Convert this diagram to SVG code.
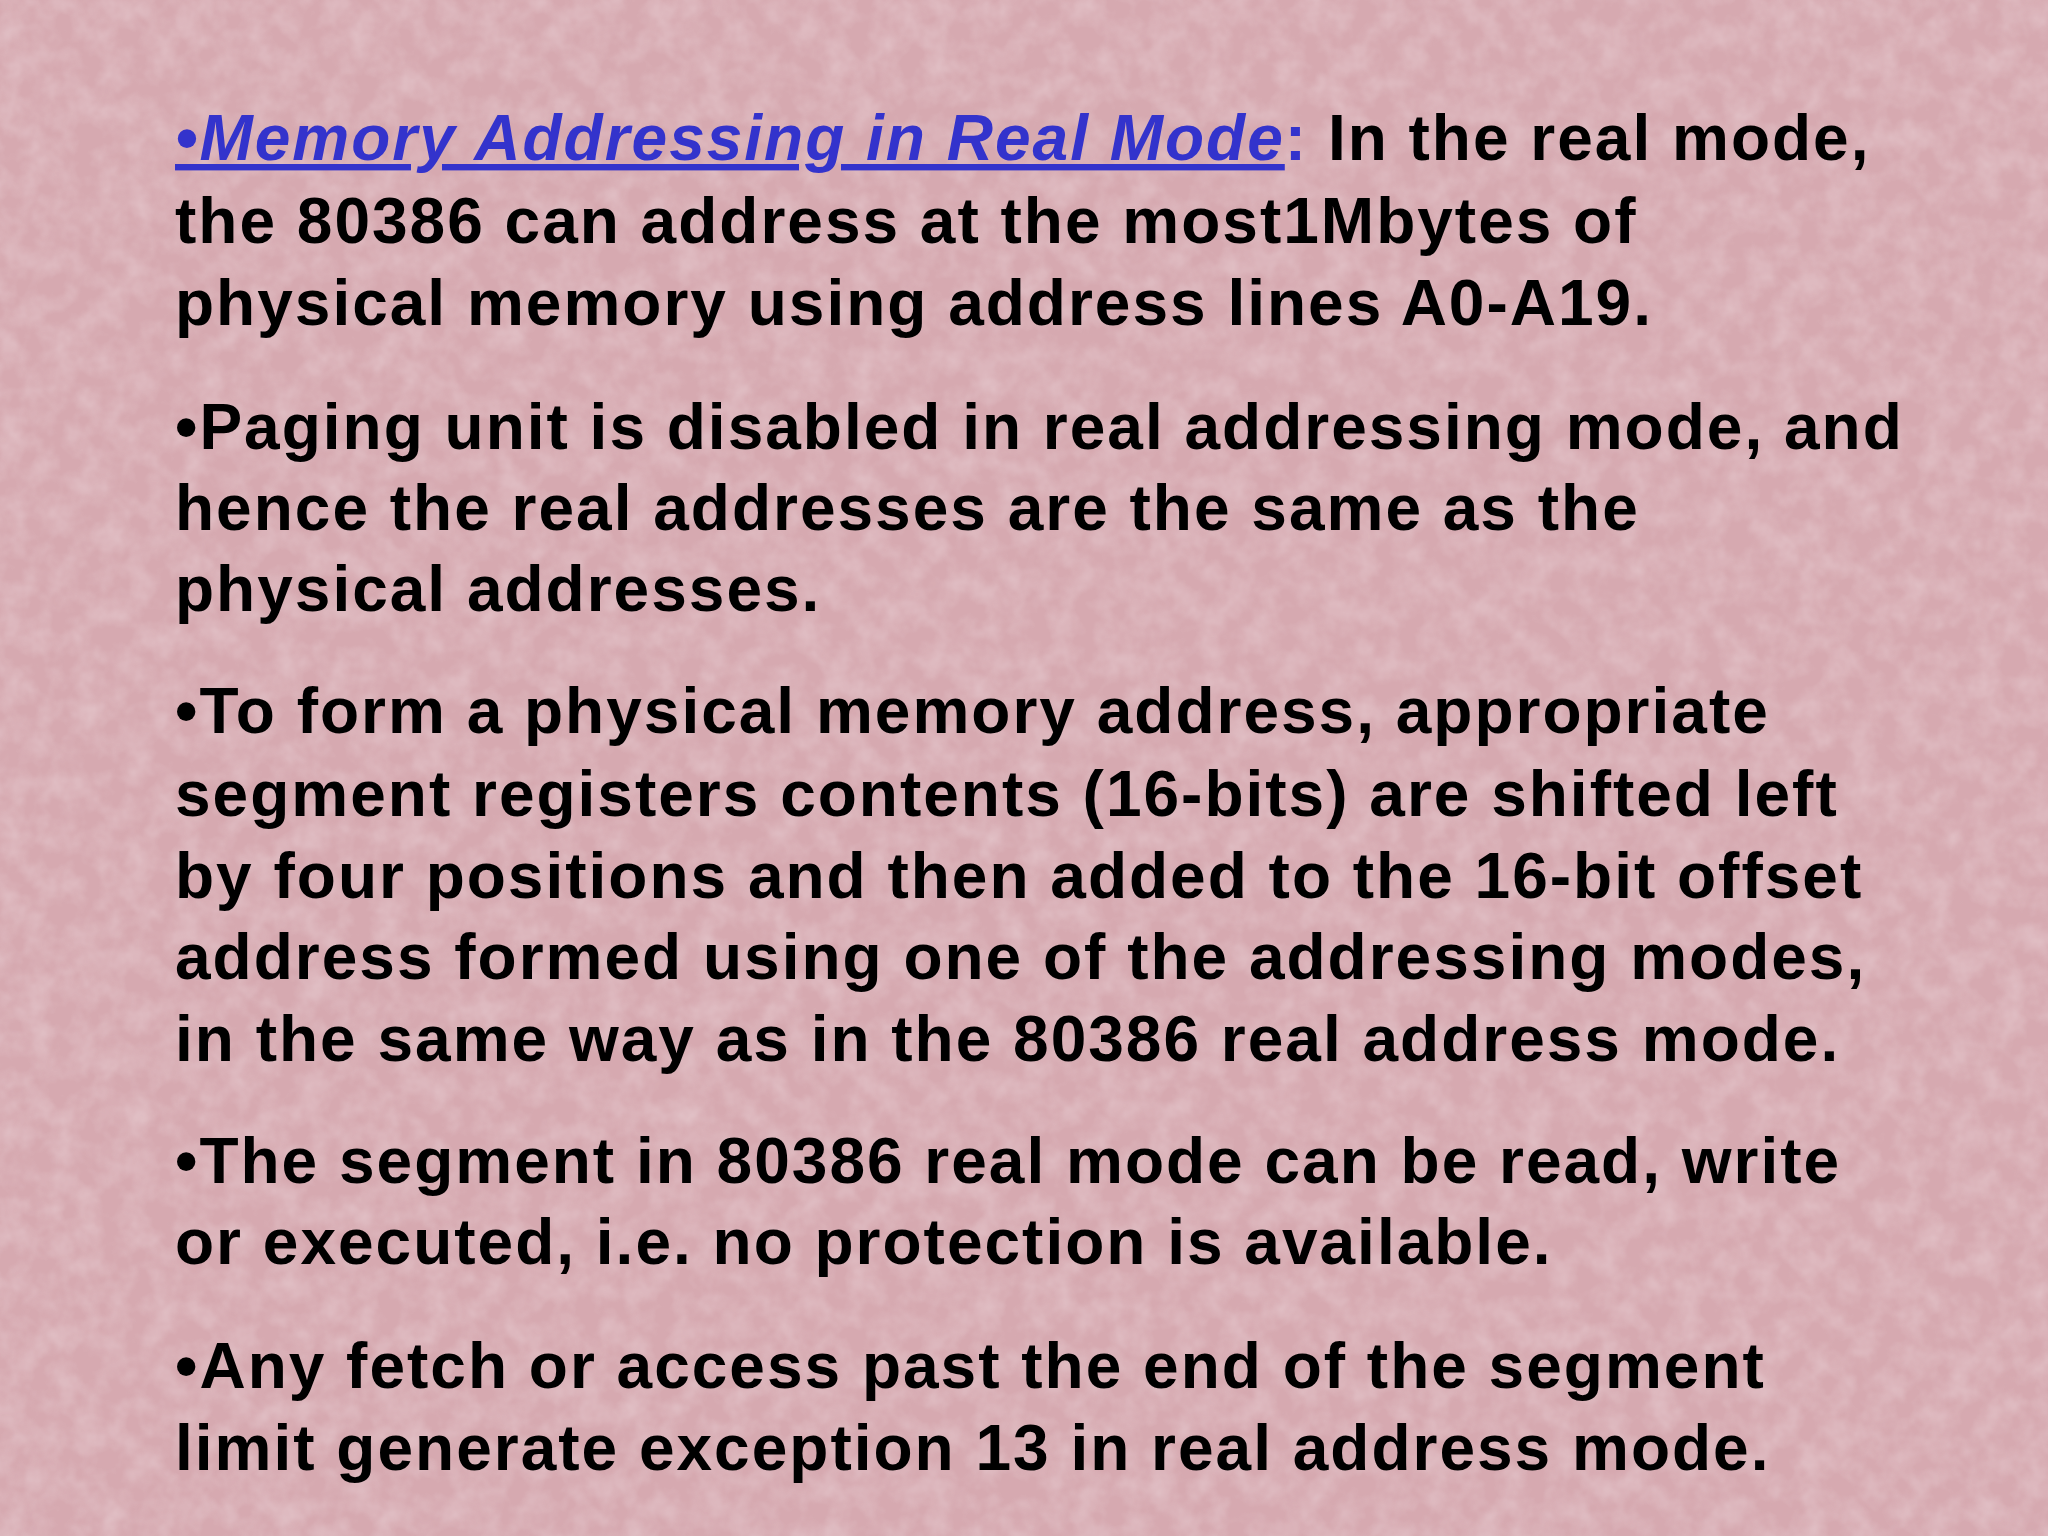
<svg xmlns="http://www.w3.org/2000/svg" width="2048" height="1536" viewBox="0 0 2048 1536">
<style>
text{font-family:"Liberation Sans",Arial,sans-serif;font-weight:bold;font-size:64px;letter-spacing:2px;fill:#000}
.t{fill:#3333cc;font-style:italic;text-decoration:underline}
.c{fill:#3333cc}
</style>
<defs>
<filter id="n" x="0" y="0" width="100%" height="100%">
<feTurbulence type="fractalNoise" baseFrequency="0.04" numOctaves="3" seed="3"/>
<feColorMatrix values="0 0 0 0 0.93  0 0 0 0 0.85  0 0 0 0 0.87  0 0 0 0.9 -0.3"/>
</filter>
</defs>
<rect width="2048" height="1536" fill="#d6a9b0"/>
<rect width="2048" height="1536" filter="url(#n)" opacity="0.6"/>
<g id="p1">
<text x="175" y="160"><tspan class="t">•Memory Addressing in Real Mode</tspan><tspan class="c">:</tspan> In the real mode,</text>
<text x="175" y="243">the 80386 can address at the most1Mbytes of</text>
<text x="175" y="325">physical memory using address lines A0-A19.</text>
</g>
<g id="p2">
<text x="175" y="449">•Paging unit is disabled in real addressing mode, and</text>
<text x="175" y="530">hence the real addresses are the same as the</text>
<text x="175" y="611">physical addresses.</text>
</g>
<g id="p3">
<text x="175" y="733">•To form a physical memory address, appropriate</text>
<text x="175" y="816">segment registers contents (16-bits) are shifted left</text>
<text x="175" y="898">by four positions and then added to the 16-bit offset</text>
<text x="175" y="979">address formed using one of the addressing modes,</text>
<text x="175" y="1061">in the same way as in the 80386 real address mode.</text>
</g>
<g id="p4">
<text x="175" y="1183">•The segment in 80386 real mode can be read, write</text>
<text x="175" y="1264">or executed, i.e. no protection is available.</text>
</g>
<g id="p5">
<text x="175" y="1388">•Any fetch or access past the end of the segment</text>
<text x="175" y="1470">limit generate exception 13 in real address mode.</text>
</g>
</svg>
